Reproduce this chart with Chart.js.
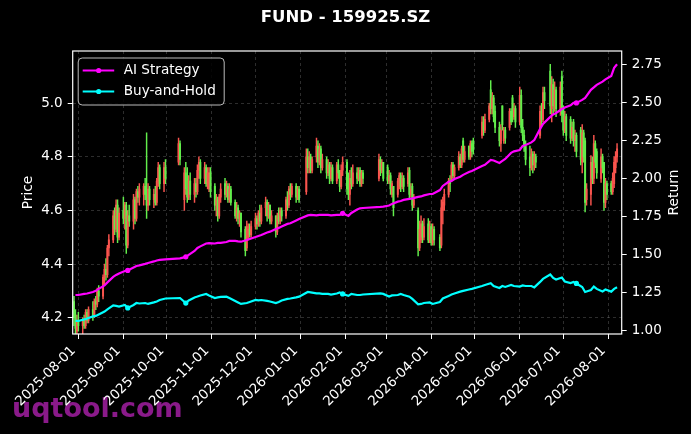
<!DOCTYPE html>
<html>
<head>
<meta charset="utf-8">
<script src="https://cdn.jsdelivr.net/npm/chart.js@4.4.1/dist/chart.umd.min.js"></script>
<style>
html,body{margin:0;padding:0;background:#000;overflow:hidden;}
#wrap{width:691px;height:434px;position:relative;}
</style>
</head>
<body>
<div id="wrap"><canvas id="c"></canvas></div>
<script>
// ---------------- DATA ----------------
const chartTitle = 'FUND - 159925.SZ';
const watermark = 'uqtool.com';
const seriesNames = ['AI Strategy', 'Buy-and-Hold'];
const startDate = '2025-07-29';
const endDate = '2026-08-07';
const holidays = ['2025-10-01','2025-10-02','2025-10-03','2025-10-06','2025-10-07','2025-10-08',
  '2026-01-01','2026-01-02','2026-02-16','2026-02-17','2026-02-18','2026-02-19','2026-02-20','2026-02-23',
  '2026-04-06','2026-05-01','2026-05-04','2026-05-05','2026-06-19'];
const monthTicks = ['2025-08-01','2025-09-01','2025-10-01','2025-11-01','2025-12-01','2026-01-01',
  '2026-02-01','2026-03-01','2026-04-01','2026-05-01','2026-06-01','2026-07-01','2026-08-01'];
const priceTicks = [4.2, 4.4, 4.6, 4.8, 5.0];
const returnTicks = [1.00, 1.25, 1.50, 1.75, 2.00, 2.25, 2.50, 2.75];

const opens = [4.26,4.21,4.15,4.19,
 4.17,4.19,4.17,4.22,4.19, 4.23,4.21,4.26,4.25,4.30, 4.28,4.35,4.38,4.36,4.46, 4.49,4.58,4.53,4.62,4.50,
 4.60,4.57,4.62,4.47,4.58, 4.56,4.64,4.57,4.67,4.65, 4.66,4.69,4.66,4.62,4.68, 4.64,4.66,4.63,4.71,4.76,
 4.70,4.76, 4.78,4.85,
 4.64,4.74,4.68,4.65,4.71, 4.66,4.70,4.67,4.75,4.78, 4.72,4.76,4.70,4.68,4.74, 4.69,4.62,4.64,4.58,4.65,
 4.70,4.66,4.69,4.64,4.68, 4.63,4.58,4.61,4.57,4.59, 4.53,4.46,4.50,4.53,4.51, 4.54,4.57,4.55,4.59,4.56,
 4.61,4.63,4.58,4.62,4.56, 4.58,4.52,4.58,4.56,4.60, 4.58,4.64,4.62,4.68,4.66, 4.69,4.65,4.68,
 4.67,4.80,4.76,4.80,4.75, 4.80,4.84,4.78,4.83,4.76, 4.79,4.74,4.77,4.72,4.76, 4.71,4.77,4.74,4.69,4.75,
 4.78,4.72,4.66,4.72,4.70, 4.74,4.72,4.75,4.70,4.74, 4.72,4.79,4.75,4.78,
 4.76,4.71,4.73,4.66,4.69, 4.66,4.71,4.73,4.69,4.72, 4.70,4.75,4.66,4.69,4.62, 4.60,4.46,4.49,4.55,4.50,
 4.55,4.49,4.54,4.48,4.53, 4.50,4.47,4.60,4.62, 4.66,4.71,4.72,4.77,4.73, 4.76,4.80,4.77,4.86,4.79,
 4.84,4.80,4.85,4.86, 4.88,4.93,4.90, 4.94,5.05,4.98,5.02,4.97, 4.91,4.85,4.99,4.86,4.90,
 4.91,4.97,5.02,4.95,4.98, 4.93,5.03,4.91,4.88,4.84, 4.80,4.76,4.81,4.77,4.80, 4.88,4.97,4.94,5.04,
 5.12,4.98,5.07,4.99,5.05, 4.97,5.10,4.98,4.90,4.95, 4.94,4.87,4.93,4.86,4.88, 4.90,4.78,4.89,4.86,4.64,
 4.66,4.78,4.72,4.85,4.82, 4.72,4.80,4.78,4.63,4.70, 4.70,4.67,4.70,4.76,4.80];
const highs = [4.28,4.23,4.21,4.22,
 4.20,4.21,4.23,4.23,4.24, 4.26,4.27,4.28,4.31,4.32, 4.36,4.40,4.42,4.47,4.51, 4.60,4.61,4.64,4.64,4.61,
 4.65,4.63,4.63,4.60,4.62, 4.66,4.65,4.68,4.69,4.70, 4.70,4.72,4.89,4.70,4.69, 4.68,4.69,4.72,4.78,4.77,
 4.78,4.79, 4.87,4.86,
 4.76,4.78,4.76,4.73,4.74, 4.72,4.72,4.77,4.80,4.79, 4.78,4.77,4.76,4.76,4.76, 4.70,4.66,4.65,4.66,4.70,
 4.72,4.71,4.70,4.70,4.69, 4.64,4.63,4.62,4.60,4.59, 4.54,4.56,4.55,4.55,4.56, 4.59,4.58,4.60,4.62,4.62,
 4.65,4.64,4.63,4.62,4.60, 4.58,4.59,4.61,4.61,4.61, 4.65,4.67,4.69,4.70,4.70, 4.70,4.69,4.69,
 4.83,4.83,4.82,4.81,4.80, 4.87,4.86,4.85,4.84,4.81, 4.80,4.79,4.78,4.78,4.77, 4.78,4.79,4.75,4.77,4.80,
 4.79,4.74,4.75,4.76,4.77, 4.76,4.76,4.76,4.75,4.75, 4.81,4.80,4.79,4.78,
 4.77,4.75,4.74,4.71,4.69, 4.72,4.74,4.74,4.74,4.73, 4.76,4.76,4.70,4.70,4.66, 4.61,4.56,4.58,4.56,4.57,
 4.57,4.56,4.55,4.55,4.54, 4.51,4.64,4.65,4.68, 4.72,4.73,4.78,4.78,4.77, 4.82,4.81,4.84,4.87,4.84,
 4.84,4.86,4.86,4.87, 4.95,4.95,4.96, 5.00,5.085,5.04,5.03,4.99, 4.93,4.92,4.99,4.91,4.91,
 4.98,4.98,5.03,5.00,4.99, 5.06,5.05,4.94,4.90,4.86, 4.84,4.83,4.82,4.82,4.81, 4.99,5.00,5.06,5.06,
 5.145,5.10,5.09,5.08,5.06, 5.08,5.12,4.99,4.97,4.96, 4.95,4.93,4.94,4.90,4.89, 4.91,4.92,4.90,4.87,4.70,
 4.805,4.80,4.88,4.86,4.83, 4.83,4.81,4.78,4.72,4.71, 4.71,4.74,4.80,4.82,4.85];
const lows = [4.17,4.14,4.13,4.15,
 4.13,4.16,4.16,4.18,4.18, 4.19,4.20,4.23,4.24,4.26, 4.27,4.32,4.34,4.35,4.43, 4.48,4.51,4.52,4.48,4.49,
 4.55,4.53,4.44,4.46,4.54, 4.53,4.55,4.56,4.63,4.62, 4.62,4.64,4.57,4.60,4.62, 4.61,4.62,4.62,4.69,4.68,
 4.67,4.70, 4.77,4.77,
 4.60,4.66,4.63,4.64,4.64, 4.63,4.65,4.66,4.72,4.70, 4.70,4.69,4.68,4.67,4.65, 4.60,4.58,4.56,4.57,4.63,
 4.64,4.65,4.63,4.63,4.62, 4.57,4.56,4.55,4.54,4.50, 4.43,4.45,4.49,4.50,4.50, 4.53,4.53,4.54,4.54,4.55,
 4.58,4.56,4.57,4.55,4.55, 4.50,4.51,4.55,4.55,4.56, 4.57,4.60,4.61,4.64,4.65, 4.63,4.64,4.63,
 4.66,4.74,4.74,4.74,4.74, 4.78,4.76,4.77,4.74,4.75, 4.72,4.73,4.70,4.71,4.70, 4.70,4.72,4.67,4.68,4.73,
 4.66,4.64,4.62,4.68,4.69, 4.70,4.71,4.69,4.69,4.70, 4.71,4.73,4.74,4.71,
 4.70,4.70,4.66,4.65,4.58, 4.65,4.68,4.67,4.68,4.67, 4.69,4.64,4.65,4.60,4.61, 4.43,4.45,4.48,4.48,4.49,
 4.48,4.48,4.47,4.47,4.47, 4.45,4.46,4.55,4.60, 4.65,4.67,4.71,4.72,4.72, 4.75,4.76,4.76,4.78,4.78,
 4.79,4.79,4.80,4.81, 4.87,4.88,4.89, 4.93,4.96,4.96,4.93,4.89, 4.84,4.82,4.90,4.85,4.85,
 4.90,4.92,4.93,4.94,4.91, 4.92,4.89,4.86,4.82,4.77, 4.73,4.75,4.74,4.75,4.76, 4.87,4.92,4.93,4.98,
 4.96,4.93,4.96,4.97,4.95, 4.955,4.93,4.88,4.89,4.86, 4.85,4.86,4.84,4.82,4.80, 4.77,4.74,4.78,4.595,4.62,
 4.62,4.70,4.70,4.76,4.72, 4.705,4.74,4.60,4.61,4.64, 4.66,4.66,4.685,4.74,4.78];
const closes = [4.20,4.16,4.19,4.17,
 4.19,4.17,4.22,4.19,4.23, 4.21,4.26,4.25,4.30,4.28, 4.35,4.38,4.36,4.46,4.49, 4.58,4.53,4.62,4.50,4.59,
 4.57,4.62,4.47,4.58,4.56, 4.64,4.57,4.67,4.65,4.68, 4.69,4.66,4.62,4.68,4.64, 4.66,4.63,4.71,4.76,4.70,
 4.76,4.72, 4.85,4.79,
 4.74,4.68,4.65,4.71,4.66, 4.70,4.67,4.75,4.78,4.72, 4.76,4.70,4.74,4.74,4.67, 4.62,4.64,4.58,4.65,4.68,
 4.66,4.69,4.64,4.68,4.63, 4.58,4.61,4.57,4.59,4.52, 4.45,4.54,4.53,4.51,4.54, 4.57,4.55,4.59,4.56,4.61,
 4.63,4.58,4.62,4.56,4.58, 4.52,4.58,4.56,4.60,4.58, 4.64,4.62,4.68,4.66,4.69, 4.65,4.68,4.64,
 4.80,4.76,4.80,4.75,4.79, 4.84,4.78,4.83,4.76,4.79, 4.74,4.77,4.72,4.76,4.71, 4.77,4.74,4.69,4.75,4.78,
 4.68,4.66,4.72,4.70,4.74, 4.72,4.75,4.70,4.74,4.72, 4.79,4.75,4.78,4.72,
 4.71,4.73,4.68,4.70,4.61, 4.71,4.73,4.69,4.72,4.69, 4.74,4.66,4.68,4.62,4.64, 4.46,4.53,4.55,4.50,4.54,
 4.49,4.54,4.48,4.53,4.49, 4.46,4.61,4.63,4.66, 4.71,4.70,4.77,4.73,4.76, 4.80,4.77,4.83,4.79,4.82,
 4.80,4.85,4.82,4.83, 4.93,4.90,4.94, 4.99,4.98,5.02,4.95,4.91, 4.86,4.90,4.92,4.90,4.87,
 4.97,4.93,4.95,4.98,4.93, 5.03,4.91,4.88,4.84,4.79, 4.76,4.81,4.77,4.80,4.78, 4.97,4.94,5.04,5.01,
 4.99,5.07,4.99,5.05,4.98, 5.06,4.96,4.90,4.95,4.88, 4.87,4.91,4.86,4.88,4.82, 4.79,4.89,4.80,4.63,4.68,
 4.78,4.72,4.85,4.78,4.74, 4.80,4.76,4.63,4.70,4.66, 4.67,4.72,4.78,4.80,4.83];

// Return series, one value for every second trading day (2nd, 4th, ... trading day)
const aiReturn = [1.235,1.235,1.242,1.245,1.255,1.262,1.275,1.298,1.318,1.354,
 1.367,1.377,1.393,1.397,1.416,1.426,1.430,1.440,1.446,1.456,
 1.462,1.466,1.469,1.476,1.486,1.499,1.525,1.545,1.555,1.574,
 1.576,1.574,1.578,1.578,1.584,1.591,1.591,1.588,1.586,1.597,
 1.604,1.617,1.624,1.630,1.647,1.652,1.670,1.677,1.686,1.703,
 1.707,1.726,1.736,1.759,1.762,1.759,1.762,1.762,1.762,1.759,
 1.762,1.762,1.773,1.756,1.775,1.798,1.806,1.808,1.815,1.817,
 1.824,1.835,1.850,1.854,1.861,1.868,1.871,1.881,1.884,1.891,
 1.900,1.900,1.926,1.953,1.980,1.986,1.999,2.014,2.026,2.045,
 2.052,2.085,2.092,2.125,2.121,2.105,2.118,2.131,2.171,2.181,
 2.190,2.217,2.223,2.240,2.256,2.329,2.362,2.408,2.424,2.434,
 2.460,2.470,2.484,2.500,2.500,2.520,2.533,2.586,2.602,2.619,
 2.640,2.655,2.678,2.731,2.755];
const bhReturn = [1.064,1.064,1.074,1.080,1.094,1.097,1.107,1.126,1.140,1.166,
 1.163,1.159,1.169,1.150,1.169,1.182,1.179,1.182,1.176,1.186,
 1.192,1.202,1.212,1.215,1.182,1.199,1.219,1.225,1.232,1.242,
 1.232,1.215,1.219,1.222,1.224,1.215,1.196,1.186,1.176,1.182,
 1.189,1.202,1.199,1.202,1.196,1.192,1.182,1.189,1.199,1.209,
 1.212,1.219,1.224,1.255,1.252,1.246,1.245,1.242,1.242,1.238,
 1.245,1.252,1.242,1.229,1.242,1.235,1.235,1.238,1.245,1.242,
 1.225,1.232,1.235,1.242,1.235,1.224,1.209,1.173,1.176,1.182,
 1.186,1.176,1.189,1.212,1.229,1.238,1.245,1.257,1.262,1.271,
 1.275,1.294,1.301,1.312,1.294,1.281,1.294,1.288,1.301,1.294,
 1.290,1.298,1.294,1.294,1.285,1.321,1.341,1.370,1.347,1.337,
 1.350,1.324,1.314,1.321,1.311,1.288,1.255,1.268,1.290,1.275,
 1.258,1.271,1.257,1.275,1.286];
const markerPoints = [13, 24, 62, 114];

// ---------------- DATES ----------------
const DAY = 86400000;
const origin = Date.UTC(2025, 7, 1);
function dayOf(s) { const p = s.split('-').map(Number); return Math.round((Date.UTC(p[0], p[1]-1, p[2]) - origin) / DAY); }
const holidaySet = new Set(holidays);
const tradingDays = [];
for (let t = dayOf(startDate); t <= dayOf(endDate); t++) {
  const dt = new Date(origin + t * DAY);
  const wd = dt.getUTCDay();
  const iso = dt.toISOString().slice(0, 10);
  if (wd === 0 || wd === 6 || holidaySet.has(iso)) continue;
  tradingDays.push(t);
}
const nCandles = Math.min(tradingDays.length, closes.length);
const monthTickDays = monthTicks.map(dayOf);

const UP = 'rgb(250,84,78)';
const DOWN = 'rgb(98,238,76)';
const candleColor = i => closes[i] >= opens[i] ? UP : DOWN;

const wickData = [], bodyData = [];
for (let i = 0; i < nCandles; i++) {
  wickData.push({x: tradingDays[i], y: [lows[i], highs[i]]});
  bodyData.push({x: tradingDays[i], y: [opens[i], closes[i]]});
}
const lineX = i => tradingDays[Math.min(2 * i + 1, tradingDays.length - 1)];
const aiData = aiReturn.map((v, i) => ({x: lineX(i), y: v}));
const bhData = bhReturn.map((v, i) => ({x: lineX(i), y: v}));

// ---------------- CHART ----------------
const FONT = "'DejaVu Sans', 'Liberation Sans', sans-serif";
const tickFont = {family: FONT, size: 13.5};
const gridColor = 'rgba(150,150,150,0.38)';

const deco = {
  id: 'deco',
  beforeDraw(chart) {
    const {ctx} = chart;
    ctx.save();
    ctx.fillStyle = '#000';
    ctx.fillRect(0, 0, chart.width, chart.height);
    ctx.fillStyle = '#8a1a8a';
    ctx.font = 'bold 27px ' + FONT;
    ctx.textAlign = 'left';
    ctx.textBaseline = 'alphabetic';
    ctx.fillText(watermark, 12, 417);
    ctx.restore();
  },
  afterDraw(chart) {
    const {ctx, chartArea: a} = chart;
    const xs = chart.scales.x;
    ctx.save();
    // frame
    ctx.strokeStyle = '#fff';
    ctx.lineWidth = 1.2;
    ctx.strokeRect(a.left, a.top, a.right - a.left, a.bottom - a.top);
    // x tick labels (rotated 45°, right end at tick)
    ctx.fillStyle = '#fff';
    ctx.font = '13.5px ' + FONT;
    ctx.textAlign = 'right';
    ctx.textBaseline = 'alphabetic';
    monthTicks.forEach((lab, i) => {
      const px = xs.getPixelForValue(monthTickDays[i]);
      ctx.save();
      ctx.translate(px - 2.3, a.bottom + 17.1);
      ctx.rotate(-Math.PI / 4);
      ctx.fillText(lab, 0, 0);
      ctx.restore();
    });
    // title
    ctx.font = 'bold 16.5px ' + FONT;
    ctx.textAlign = 'center';
    ctx.textBaseline = 'middle';
    ctx.fillText(chartTitle, chart.width / 2, 18);
    // axis titles
    ctx.font = '13.8px ' + FONT;
    const cy = (a.top + a.bottom) / 2;
    ctx.save(); ctx.translate(28, cy); ctx.rotate(-Math.PI / 2); ctx.fillText('Price', 0, 0); ctx.restore();
    ctx.save(); ctx.translate(chart.width - 17, cy); ctx.rotate(-Math.PI / 2); ctx.fillText('Return', 0, 0); ctx.restore();
    // legend
    const lx = a.left + 5.5, ly = a.top + 7, lw = 146, lh = 47;
    ctx.beginPath();
    ctx.roundRect(lx, ly, lw, lh, 4);
    ctx.fillStyle = 'rgba(0,0,0,0.85)';
    ctx.fill();
    ctx.strokeStyle = '#bbb';
    ctx.lineWidth = 1;
    ctx.stroke();
    const items = [[seriesNames[0], '#ff00ff', ly + 12.5], [seriesNames[1], '#00ffff', ly + 33.5]];
    items.forEach(([name, col, y]) => {
      ctx.strokeStyle = col; ctx.lineWidth = 2.2;
      ctx.beginPath(); ctx.moveTo(lx + 4.5, y); ctx.lineTo(lx + 36, y); ctx.stroke();
      ctx.fillStyle = col;
      ctx.beginPath(); ctx.arc(lx + 20.5, y, 2.6, 0, Math.PI * 2); ctx.fill();
      ctx.fillStyle = '#fff';
      ctx.font = '13.6px ' + FONT;
      ctx.textAlign = 'left';
      ctx.textBaseline = 'middle';
      ctx.fillText(name, lx + 45.5, y);
    });
    ctx.restore();
  }
};

new Chart(document.getElementById('c'), {
  type: 'bar',
  data: {
    datasets: [
      {type: 'line', label: seriesNames[0], data: aiData, yAxisID: 'y1', borderColor: '#ff00ff', backgroundColor: '#ff00ff',
       borderWidth: 2.2, tension: 0, order: 0,
       pointRadius: c => markerPoints.includes(c.dataIndex) ? 2.6 : 0, pointBorderWidth: 0, pointHoverRadius: 0},
      {type: 'line', label: seriesNames[1], data: bhData, yAxisID: 'y1', borderColor: '#00ffff', backgroundColor: '#00ffff',
       borderWidth: 2.2, tension: 0, order: 0,
       pointRadius: c => markerPoints.includes(c.dataIndex) ? 2.6 : 0, pointBorderWidth: 0, pointHoverRadius: 0},
      {label: 'body', data: bodyData, yAxisID: 'y', grouped: false, barThickness: 1.3, order: 1,
       backgroundColor: c => candleColor(c.dataIndex), borderWidth: 0, minBarLength: 0.6},
      {label: 'wick', data: wickData, yAxisID: 'y', grouped: false, barThickness: 0.8, order: 2,
       backgroundColor: c => candleColor(c.dataIndex), borderWidth: 0}
    ]
  },
  options: {
    responsive: true,
    maintainAspectRatio: false,
    animation: false,
    events: [],
    layout: {padding: {top: 51, left: 0, right: 0, bottom: 0}},
    plugins: {legend: {display: false}, title: {display: false}, tooltip: {enabled: false}},
    scales: {
      x: {
        type: 'linear', min: -3.9, max: 374.2, offset: false,
        afterBuildTicks: s => { s.ticks = monthTickDays.map(v => ({value: v})); },
        afterFit: s => { s.height = 100; },
        ticks: {display: false, autoSkip: false},
        grid: {color: gridColor, lineWidth: 0.8, offset: false, drawTicks: true, tickColor: '#fff', tickLength: 5, tickWidth: 1},
        border: {display: false, dash: [3, 3]}
      },
      y: {
        position: 'left', min: 4.139, max: 5.195,
        afterBuildTicks: s => { s.ticks = priceTicks.map(v => ({value: v})); },
        afterFit: s => { s.width = 72.7; },
        ticks: {color: '#fff', font: tickFont, padding: 5, callback: v => v.toFixed(1)},
        grid: {color: gridColor, lineWidth: 0.8, drawTicks: true, tickColor: '#fff', tickLength: 5, tickWidth: 1},
        border: {display: false, dash: [3, 3]}
      },
      y1: {
        position: 'right', min: 0.978, max: 2.842,
        afterBuildTicks: s => { s.ticks = returnTicks.map(v => ({value: v})); },
        afterFit: s => { s.width = 69.3; },
        ticks: {color: '#fff', font: tickFont, padding: 5, callback: v => v.toFixed(2)},
        grid: {drawOnChartArea: false, drawTicks: true, tickColor: '#fff', tickLength: 5, tickWidth: 1},
        border: {display: false}
      }
    }
  },
  plugins: [deco]
});
</script>
</body>
</html>
